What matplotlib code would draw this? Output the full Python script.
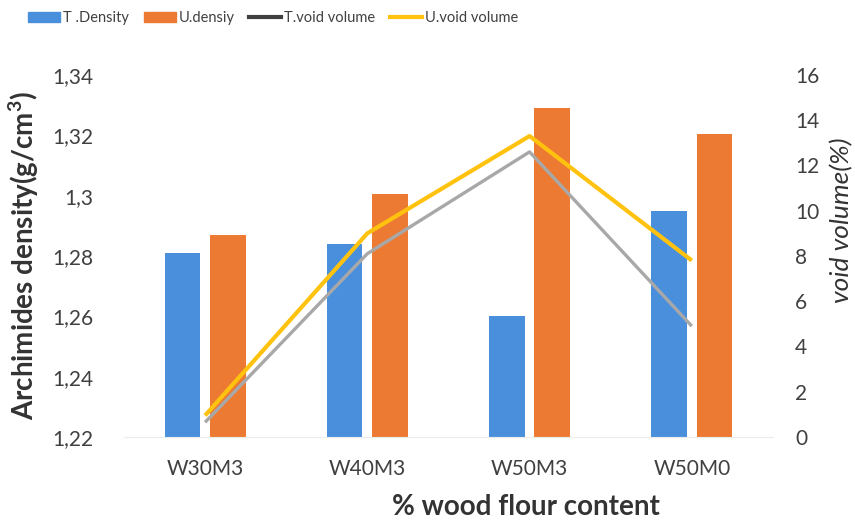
import matplotlib
matplotlib.use('Agg')
import matplotlib.pyplot as plt
from matplotlib.lines import Line2D
from matplotlib.patches import Patch
import numpy as np

plt.rcParams['font.family'] = ['Lato', 'DejaVu Sans']
plt.rcParams['mathtext.fontset'] = 'custom'
plt.rcParams['mathtext.bf'] = 'Lato:bold'

samples = ["W30M3", "W40M3", "W50M3", "W50M0"]
t_density = [1.281, 1.284, 1.260, 1.295]
u_density = [1.287, 1.3005, 1.329, 1.3205]
t_void = [0.65, 8.1, 12.6, 4.9]
u_void = [0.95, 9.0, 13.3, 7.8]

density_ticks = [1.22, 1.24, 1.26, 1.28, 1.30, 1.32, 1.34]
density_labels = ["1,22", "1,24", "1,26", "1,28", "1,3", "1,32", "1,34"]
void_ticks = [0, 2, 4, 6, 8, 10, 12, 14, 16]

blue = "#4a8fdc"
orange = "#ec7a33"
grey = "#a8a8a8"
yellow = "#ffc20e"

fig = plt.figure(figsize=(8.55, 5.24), dpi=100)
ax = fig.add_axes([0.145, 0.166, 0.759, 0.691])
x = np.arange(len(samples))
w = 0.22

ax.bar(x - 0.14, t_density, width=w, color=blue)
ax.bar(x + 0.14, u_density, width=w, color=orange)
ax.set_ylim(1.22, 1.34)
ax.set_xlim(-0.5, 3.5)
ax.set_yticks(density_ticks)
ax.set_yticklabels(density_labels)
ax.set_xticks(x)
ax.set_xticklabels(samples)
ax.tick_params(axis='y', length=0, pad=22, labelsize=15, labelcolor="#404040")
ax.tick_params(axis='x', length=0, pad=16, labelsize=15, labelcolor="#404040")
for s in ["top", "left", "right"]:
    ax.spines[s].set_visible(False)
ax.spines["bottom"].set_color("#ececec")

ax.set_xlabel("% wood flour content", fontsize=20, fontweight='bold', color="#333333")
ax.xaxis.set_label_coords(0.62, -0.158)
ax.set_ylabel("Archimides density(g/cm$^\\mathbf{3}$)", fontsize=20, fontweight='bold',
              color="#333333", labelpad=8)

ax2 = ax.twinx()
ax2.plot(x, t_void, color=grey, lw=2.4, solid_capstyle='butt')
ax2.plot(x, u_void, color=yellow, lw=3.0, solid_capstyle='butt')
ax2.set_ylim(0, 16)
ax2.set_yticks(void_ticks)
ax2.tick_params(axis='y', length=0, pad=16, labelsize=15, labelcolor="#404040")
for s in ax2.spines.values():
    s.set_visible(False)
ax2.set_ylabel("void volume(%)", fontsize=19, style='italic', color="#333333")
ax2.yaxis.set_label_coords(1.088, 0.6)

handles = [
    Patch(color=blue),
    Patch(color=orange),
    Line2D([], [], color="#404040", lw=3),
    Line2D([], [], color=yellow, lw=3),
]
labels = ["T .Density", "U.densiy", "T.void volume", "U.void volume"]
fig.legend(handles, labels, loc='center left', bbox_to_anchor=(0.033, 0.965), ncol=4,
           frameon=False, handlelength=2.2, handleheight=0.7,
           handletextpad=0.2, columnspacing=1.0, labelcolor="#404040",
           prop={'size': 10.5}, borderaxespad=0, borderpad=0)

fig.savefig("out.png", dpi=100)
